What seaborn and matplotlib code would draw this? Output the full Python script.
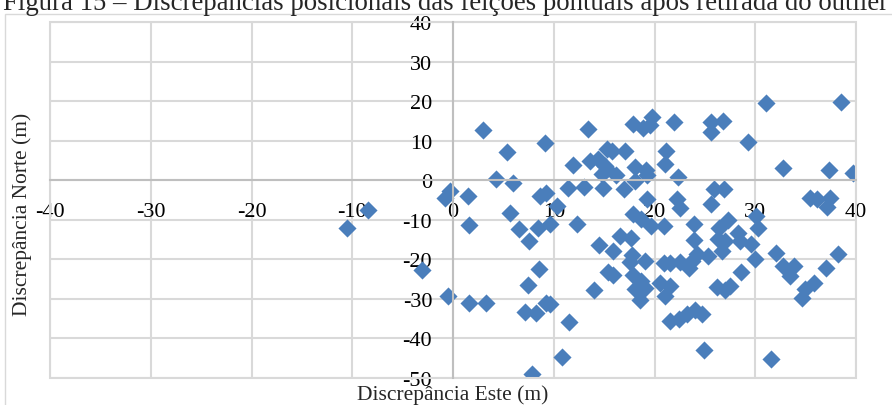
import numpy as np
import pandas as pd
import matplotlib
matplotlib.use('Agg')
import matplotlib.pyplot as plt
from matplotlib.patches import Rectangle
import seaborn as sns

# Discrepancias posicionais (m)
este = [-10.5, -8.4, -3.1, -0.5, -0.8, -0.3, 3.0, 9.1, 5.4, 11.9,
        4.3, 6.0, 1.5, 11.4, 8.6, 9.2, 10.3, 5.7, 1.6, 6.6,
        8.4, 9.6, 12.3, 7.5, 8.5, 7.4, 1.6, 3.3, 7.1, 8.2,
        9.2, 9.6, 11.5, 10.8, 7.8, 13.4, 17.9, 18.9, 19.6, 19.8,
        21.9, 25.6, 25.6, 26.8, 15.3, 15.8, 17.1, 21.1, 13.6, 14.4,
        15.1, 14.8, 15.3, 16.2, 18.1, 19.2, 19.3, 21.0, 22.3, 13.0,
        14.9, 17.0, 18.1, 25.9, 25.6, 26.9, 22.2, 22.5, 17.9, 18.7,
        19.7, 20.9, 23.9, 26.4, 16.6, 17.7, 14.5, 15.9, 17.8, 17.6,
        19.1, 15.4, 15.9, 17.9, 18.7, 19.1, 18.1, 18.6, 14.0, 20.5,
        21.5, 21.0, 20.9, 21.5, 22.5, 23.4, 23.7, 24.2, 25.3, 23.9,
        26.3, 26.7, 26.2, 21.5, 22.4, 23.2, 24.0, 24.7, 24.9, 31.1,
        38.5, 29.3, 32.8, 37.3, 39.7, 35.4, 36.1, 37.4, 37.1, 30.1,
        30.3, 27.3, 28.3, 28.5, 29.6, 30.0, 28.6, 27.0, 27.5, 32.1,
        32.8, 33.8, 33.4, 34.6, 34.9, 35.8, 37.0, 38.2, 31.6, 19.3,
        27.0]
norte = [-12.0, -7.6, -22.8, -29.2, -4.4, -2.6, 12.7, 9.5, 7.2, 3.9,
         0.4, -0.6, -4.0, -2.0, -4.1, -3.3, -6.5, -8.2, -11.2, -12.4,
         -12.0, -11.0, -11.1, -15.3, -22.4, -26.5, -31.1, -31.1, -33.3, -33.5,
         -31.0, -31.4, -35.8, -44.6, -49.1, 12.9, 14.2, 13.1, 13.9, 16.1,
         14.6, 14.6, 12.1, 14.9, 8.0, 7.4, 7.3, 7.4, 4.9, 5.3,
         3.6, 1.5, 2.8, 1.3, 3.4, 2.6, 1.3, 4.0, 0.8, -1.6,
         -1.9, -2.1, -0.2, -2.3, -6.1, -2.2, -4.8, -6.9, -8.6, -9.9,
         -11.6, -11.6, -11.1, -12.0, -14.2, -14.5, -16.5, -17.9, -19.0, -20.8,
         -20.4, -23.1, -24.0, -24.0, -25.5, -27.2, -27.6, -30.3, -27.7, -25.9,
         -26.8, -29.3, -21.0, -21.0, -20.6, -22.1, -20.4, -18.7, -19.2, -15.0,
         -14.9, -17.9, -27.0, -35.6, -35.2, -33.9, -32.7, -33.9, -43.0, 19.5,
         19.8, 9.7, 3.0, 2.5, 1.7, -4.6, -4.8, -4.4, -6.7, -9.0,
         -12.2, -10.1, -13.3, -15.4, -16.0, -20.0, -23.1, -27.8, -26.7, -18.3,
         -21.7, -21.7, -24.2, -29.7, -27.4, -26.1, -22.1, -18.7, -45.3, -4.8,
         -15.4]
x_ticks = list(range(-40, 41, 10))
y_ticks = list(range(-50, 41, 10))

titulo = 'Figura 15 \u2013 Discrep\u00e2ncias posicionais das fei\u00e7\u00f5es pontuais ap\u00f3s retirada do outlier'

sns.set_style('white')
plt.rcParams['font.family'] = ['Liberation Serif', 'DejaVu Serif']
plt.rcParams['axes.unicode_minus'] = False

W, H = 892, 406
fig = plt.figure(figsize=(W / 100, H / 100), dpi=100)
ax = fig.add_axes([50 / W, 1 - 379 / H, 806 / W, 356 / H])

df = pd.DataFrame({'Este': este, 'Norte': norte})
sns.scatterplot(data=df, x='Este', y='Norte', marker='D', s=85,
                color='#4A7EBB', linewidth=0, ax=ax)

ax.set_xlim(-40, 40)
ax.set_ylim(-50, 40)
ax.set_xticks(x_ticks)
ax.set_yticks(y_ticks)
ax.grid(True, color='#d9d9d9', linewidth=1.5)
ax.set_axisbelow(True)

for side in ['top', 'right']:
    ax.spines[side].set_visible(False)
ax.spines['left'].set_position(('data', 0))
ax.spines['bottom'].set_position(('data', 0))
for side in ['left', 'bottom']:
    ax.spines[side].set_color('#bfbfbf')
    ax.spines[side].set_linewidth(1.5)
ax.tick_params(axis='both', length=0, labelsize=16, labelcolor='black')
ax.tick_params(axis='x', pad=16)
ax.tick_params(axis='y', pad=15)
ax.set_xlabel('')
ax.set_ylabel('')

# moldura da area de plotagem e do grafico
ax.add_patch(Rectangle((0, 0), 1, 1, transform=ax.transAxes, fill=False,
                       edgecolor='#d9d9d9', lw=1.5, clip_on=False))
fig.add_artist(Rectangle((5 / W, -0.01), 1, 1 - 15 / H + 0.01, transform=fig.transFigure,
                         fill=False, edgecolor='#d9d9d9', lw=1))

fig.text(453 / W, 1 - 395 / H, 'Discrep\u00e2ncia Este (m)', ha='center', va='center', fontsize=15.5)
fig.text(22 / W, 1 - 214 / H, 'Discrep\u00e2ncia Norte (m)', ha='center', va='center',
         rotation=90, fontsize=15.5)
fig.text(0.5, 1 - 10 / H, titulo, ha='center', va='baseline', fontsize=19.3)

fig.savefig('out.png', dpi=100)
